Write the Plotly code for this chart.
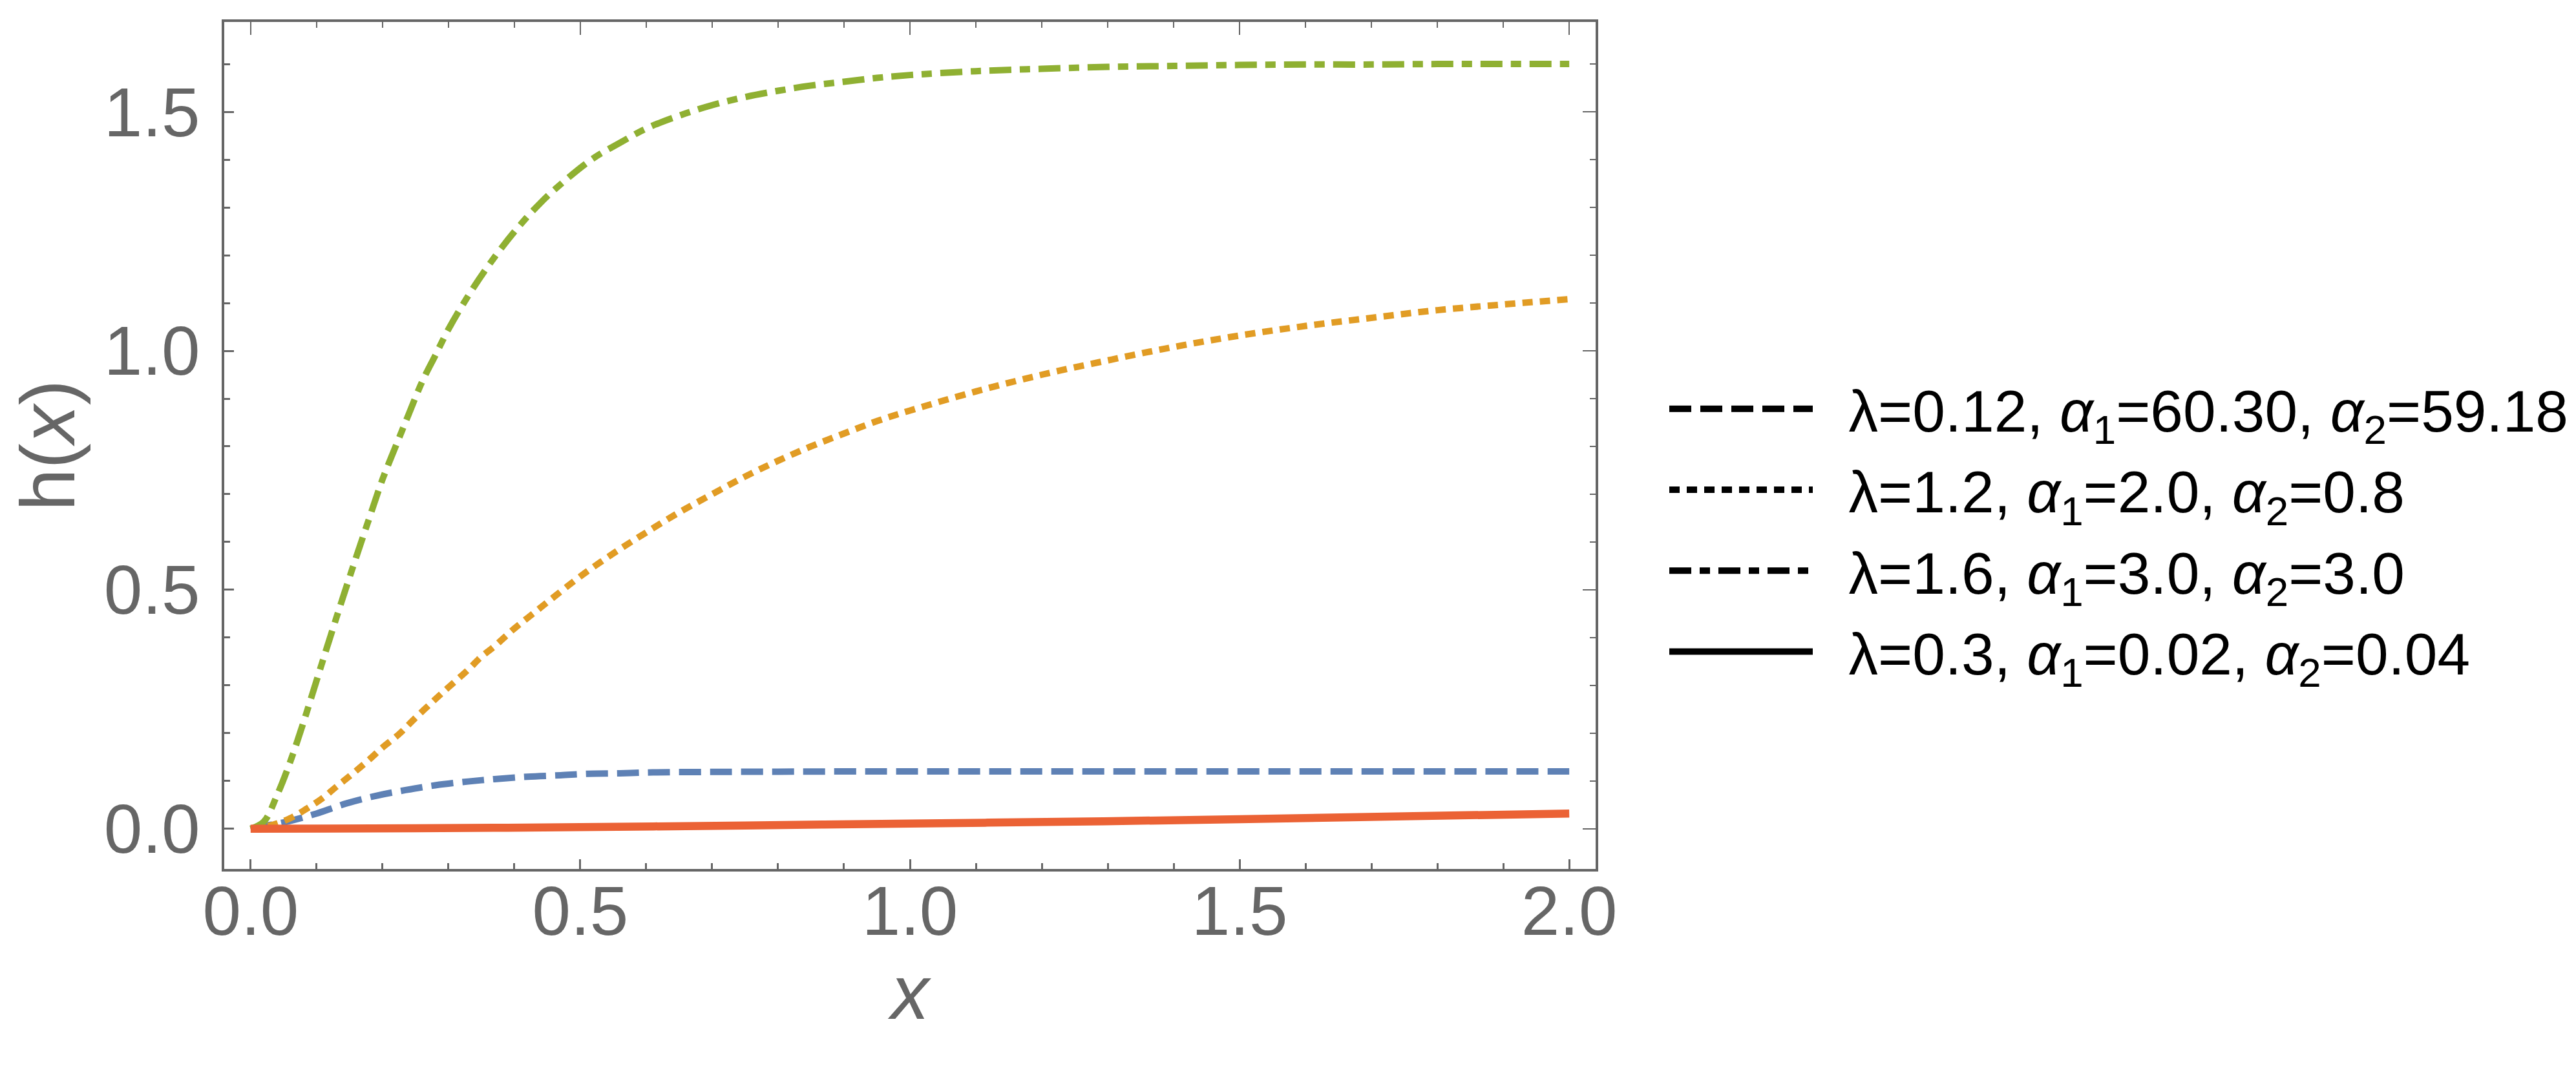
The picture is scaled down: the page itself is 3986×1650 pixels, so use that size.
import plotly.graph_objects as go

# values
x_blue = [0, 0.013, 0.055, 0.10, 0.145, 0.19, 0.235, 0.28, 0.33, 0.37, 0.42, 0.47, 0.51, 0.56, 0.61,
          0.70, 0.80, 0.90, 1.0, 1.2, 1.4, 1.6, 1.8, 2.0]
y_blue = [0, 0.004, 0.015, 0.032, 0.053, 0.069, 0.081, 0.091, 0.099, 0.104, 0.109, 0.112, 0.115, 0.116,
          0.118, 0.119, 0.1195, 0.12, 0.12, 0.12, 0.12, 0.12, 0.12, 0.12]

x_orange = [0, 0.03, 0.06, 0.085, 0.11, 0.13, 0.15, 0.18, 0.20, 0.225, 0.25, 0.28, 0.30, 0.33, 0.35,
            0.37, 0.40, 0.43, 0.46, 0.50, 0.55, 0.60, 0.65, 0.70, 0.75, 0.80, 0.85, 0.90, 0.95, 1.00,
            1.10, 1.20, 1.30, 1.40, 1.50, 1.60, 1.70, 1.80, 1.90, 2.00]
y_orange = [0, 0.007, 0.022, 0.042, 0.065, 0.088, 0.11, 0.145, 0.17, 0.198, 0.232, 0.271, 0.296, 0.333,
            0.36, 0.382, 0.419, 0.452, 0.485, 0.528, 0.576, 0.620, 0.662, 0.700, 0.737, 0.770, 0.800,
            0.827, 0.853, 0.875, 0.915, 0.950, 0.98, 1.008, 1.032, 1.052, 1.069, 1.085, 1.097, 1.108]

x_green = [0, 0.02, 0.04, 0.06, 0.08, 0.10, 0.12, 0.14, 0.16, 0.18, 0.20, 0.22, 0.24, 0.26, 0.28, 0.30,
           0.33, 0.36, 0.40, 0.44, 0.48, 0.52, 0.56, 0.60, 0.65, 0.70, 0.75, 0.80, 0.85, 0.90, 0.95,
           1.00, 1.10, 1.20, 1.30, 1.40, 1.50, 1.60, 1.70, 1.80, 1.90, 2.00]
y_green = [0, 0.015, 0.07, 0.14, 0.222, 0.31, 0.398, 0.484, 0.568, 0.65, 0.731, 0.80, 0.868, 0.935, 0.99,
           1.045, 1.115, 1.177, 1.249, 1.31, 1.36, 1.403, 1.435, 1.465, 1.492, 1.514, 1.531, 1.544,
           1.555, 1.563, 1.571, 1.577, 1.585, 1.590, 1.594, 1.596, 1.598, 1.599, 1.599, 1.6, 1.6, 1.6]

x_red = [0, 0.25, 0.5, 0.75, 1.0, 1.25, 1.5, 1.75, 2.0]
y_red = [0, 0.001, 0.0035, 0.007, 0.011, 0.015, 0.020, 0.026, 0.032]

labels = [
    "λ=0.12, <i>α</i><sub>1</sub>=60.30, <i>α</i><sub>2</sub>=59.18",
    "λ=1.2, <i>α</i><sub>1</sub>=2.0, <i>α</i><sub>2</sub>=0.8",
    "λ=1.6, <i>α</i><sub>1</sub>=3.0, <i>α</i><sub>2</sub>=3.0",
    "λ=0.3, <i>α</i><sub>1</sub>=0.02, <i>α</i><sub>2</sub>=0.04",
]
colors = ["#5E81B5", "#E19C24", "#8FB032", "#EB6235"]
dashes = ["34px,14px", "16px,11px", "34px,13px,16px,13px", "solid"]
widths = [10, 10, 10, 12.5]

W, H = 3986, 1650
L, R, T, B = 339, 2461, 26, 1337
FONT = "Liberation Sans, Arial, sans-serif"
GREY = "#666666"
NB = "\u00a0\u00a0"  # gap between legend sample and its text

fig = go.Figure()
series = [(x_blue, y_blue), (x_orange, y_orange), (x_green, y_green), (x_red, y_red)]
for (xs, ys), c, d, w in zip(series, colors, dashes, widths):
    fig.add_trace(go.Scatter(x=xs, y=ys, mode="lines", line=dict(color=c, dash=d, width=w),
                             line_shape="spline", showlegend=False, hoverinfo="skip"))

# black legend samples
for i, (lab, d, w) in enumerate(zip(labels, dashes, widths)):
    fig.add_trace(go.Scatter(x=[None], y=[None], mode="lines", name=NB + lab,
                             line=dict(color="black", dash=d, width=w), legendgroup=str(i)))

# thin ticks on top / right of the frame
fig.add_trace(go.Scatter(x=[None], y=[None], xaxis="x2", yaxis="y2", showlegend=False))

xr = [-0.04, 2.04]
yr = [-0.084, 1.688]

fig.update_layout(
    width=W, height=H,
    margin=dict(l=L, r=W - R, t=T, b=H - B),
    paper_bgcolor="white", plot_bgcolor="white",
    font=dict(family=FONT, color=GREY),
    xaxis=dict(range=xr, showgrid=False, zeroline=False, showline=True, linecolor=GREY, linewidth=4,
               mirror=True, ticks="inside", ticklen=15, tickwidth=3, tickcolor=GREY,
               tick0=0, dtick=0.5, tickformat=".1f", tickfont=dict(size=107, color=GREY),
               ticklabelstandoff=-30,
               minor=dict(dtick=0.1, ticks="inside", ticklen=9, tickwidth=3, tickcolor=GREY),
               title=dict(text="<i>x</i>", font=dict(size=118, color=GREY), standoff=24)),
    yaxis=dict(range=yr, showgrid=False, zeroline=False, showline=True, linecolor=GREY, linewidth=4,
               mirror=True, ticks="inside", ticklen=15, tickwidth=3, tickcolor=GREY,
               tick0=0, dtick=0.5, tickformat=".1f", tickfont=dict(size=107, color=GREY),
               ticklabelstandoff=12,
               minor=dict(dtick=0.1, ticks="inside", ticklen=9, tickwidth=3, tickcolor=GREY),
               title=dict(text="h(<i>x</i>)", font=dict(size=118, color=GREY), standoff=20)),
    xaxis2=dict(range=xr, overlaying="x", side="top", showgrid=False, zeroline=False,
                showticklabels=False, ticks="inside", ticklen=20, tickwidth=1.5, tickcolor=GREY,
                tick0=0, dtick=0.5,
                minor=dict(dtick=0.1, ticks="inside", ticklen=9, tickwidth=1.5, tickcolor=GREY)),
    yaxis2=dict(range=yr, overlaying="y", side="right", showgrid=False, zeroline=False,
                showticklabels=False, ticks="inside", ticklen=20, tickwidth=1.5, tickcolor=GREY,
                tick0=0, dtick=0.5,
                minor=dict(dtick=0.1, ticks="inside", ticklen=9, tickwidth=1.5, tickcolor=GREY)),
    legend=dict(xref="container", yref="container", x=2570 / W, y=1 - 813 / H,
                xanchor="left", yanchor="middle", itemwidth=222,
                font=dict(family=FONT, size=91, color="black"),
                bgcolor="rgba(0,0,0,0)", tracegroupgap=4),
)

fig.write_html("out.html")
